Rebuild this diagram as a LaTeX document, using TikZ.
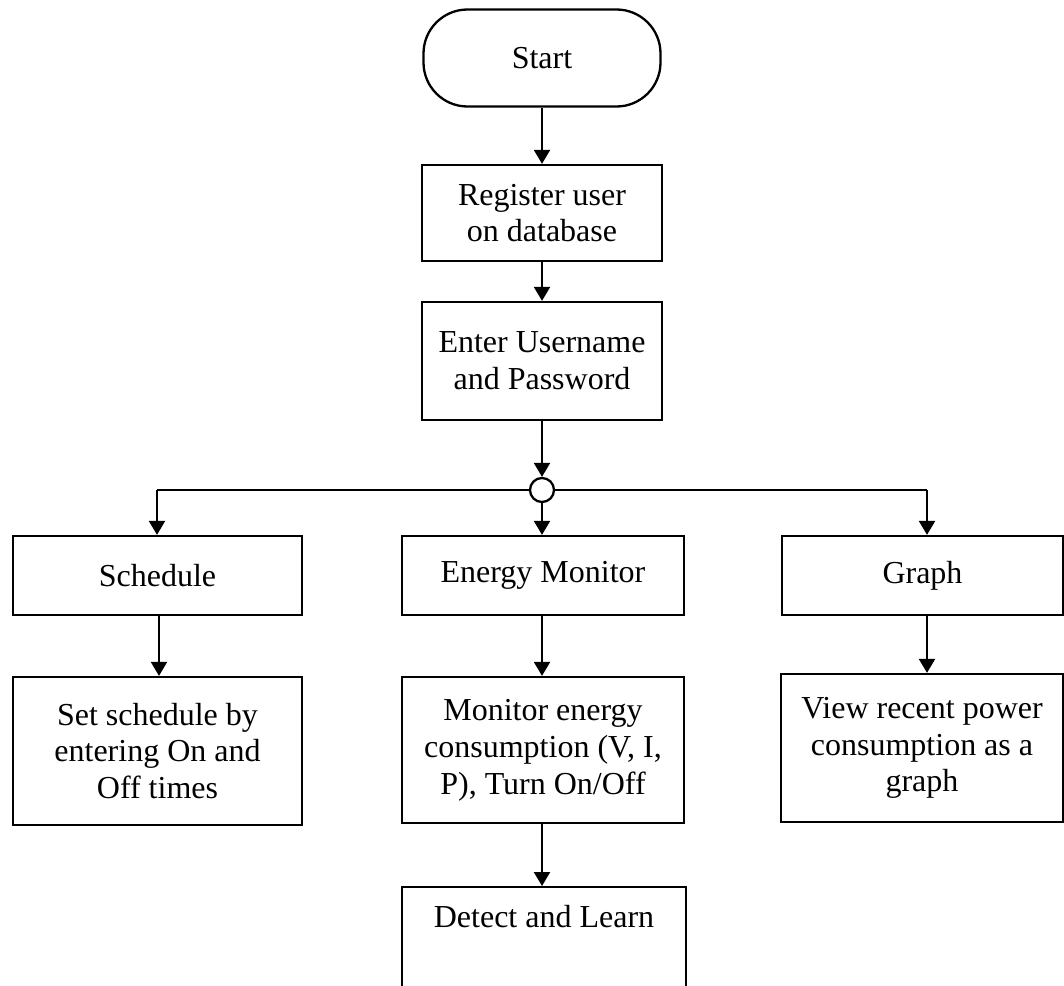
\documentclass[tikz,border=0pt]{standalone}
\usepackage{fontspec}
\setmainfont{Liberation Serif}
\usetikzlibrary{arrows.meta}
\begin{document}
\begin{tikzpicture}[x=0.5pt,y=-0.5pt,
  line width=1.15pt,
  every node/.style={font=\fontsize{16}{18.4}\selectfont, align=center, inner sep=4pt},
  box/.style={draw, rectangle},
  terminal/.style={draw, rectangle, rounded corners=22pt},
  junction/.style={draw, circle, minimum size=12pt, inner sep=0pt},
  flow/.style={-{Triangle[length=7pt,width=8pt]}}]
\clip (0,0) rectangle (1064,985);

% main column
\node[terminal, minimum width=118.5pt, minimum height=48.5pt] (start) at (542,58) {Start};
\node[box, minimum width=120pt, minimum height=48pt] (reg) at (542,213) {Register user\\on database};
\node[box, minimum width=120pt, minimum height=59pt] (enter) at (542,361) {Enter Username\\and Password};
\node[junction] (hub) at (542,490) {};

% three branches
\node[box, minimum width=144.5pt, minimum height=39.5pt] (sched) at (157.5,575.5) {Schedule};
\node[box, minimum width=141pt, minimum height=39.5pt] (energy) at (543,575.5) {Energy Monitor};
\node[box, minimum width=140.5pt, minimum height=39.5pt] (graph) at (922.5,575.5) {Graph};

\node[box, minimum width=144.5pt, minimum height=74pt] (setsched) at (157.5,751) {Set schedule by\\entering On and\\Off times};
\node[box, minimum width=141pt, minimum height=73pt] (monitor) at (543,750) {Monitor energy\\consumption (V, I,\\P), Turn On/Off};
\node[box, minimum width=141pt, minimum height=74pt] (view) at (922,748) {View recent power\\consumption as a\\graph};

\node[box, anchor=north, minimum width=142pt, text height=16pt, text depth=80pt] (detect) at (544,886) {Detect and Learn};

% branch corners
\coordinate (bl) at (157,490);
\coordinate (br) at (927,490);

% connectors
\draw[flow] (start) -- (reg);
\draw[flow] (reg) -- (enter);
\draw[flow] (enter) -- (hub);
\draw (hub.west) -- (bl);
\draw (hub.east) -- (br);
\draw[flow] (bl) -- (bl |- sched.north);
\draw[flow] (br) -- (br |- graph.north);
\draw[flow] (hub.south) -- (hub.south |- energy.north);
\draw[flow] (sched.south -| 159,0) -- (setsched.north -| 159,0);
\draw[flow] (energy.south -| hub) -- (monitor.north -| hub);
\draw[flow] (graph.south -| br) -- (view.north -| br);
\draw[flow] (monitor.south -| hub) -- (detect.north -| hub);
\end{tikzpicture}
\end{document}
